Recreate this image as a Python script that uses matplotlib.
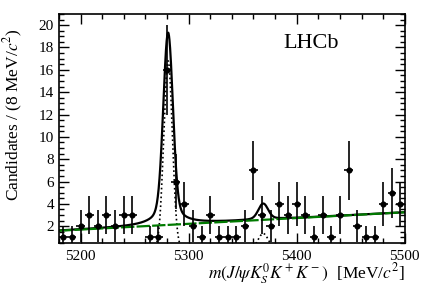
import matplotlib
matplotlib.use("Agg")
import matplotlib.pyplot as plt
import numpy as np
from matplotlib.ticker import MultipleLocator

plt.rcParams['font.family'] = ['Liberation Serif', 'DejaVu Serif']
plt.rcParams['mathtext.fontset'] = 'stix'

# binned data: 8 MeV bins from 5180 to 5500 (bin centres)
bin_centres = [5184, 5192, 5200, 5208, 5216, 5224, 5232, 5240, 5248, 5256,
               5264, 5272, 5280, 5288, 5296, 5304, 5312, 5320, 5328, 5336,
               5344, 5352, 5360, 5368, 5376, 5384, 5392, 5400, 5408, 5416,
               5424, 5432, 5440, 5448, 5456, 5464, 5472, 5480, 5488, 5496]
counts = [1, 1, 2, 3, 2, 3, 2, 3, 3, 0,
          1, 1, 16, 6, 4, 2, 1, 3, 1, 1,
          1, 2, 7, 3, 2, 4, 3, 4, 3, 1,
          3, 1, 3, 7, 2, 1, 1, 4, 5, 4]

# fit components
bkg_ends = [1.6, 3.25]          # linear background at 5180 and 5500
b0_mass, b0_peak, b0_sigma = 5281.0, 16.8, 4.0
bs_mass, bs_peak, bs_sigma = 5369.0, 1.35, 4.6
core_amp, core_sigma = 14.7, 4.3
tail_amp, tail_gamma = 2.5, 10.0
bs_scale = 0.083

x = np.linspace(5180, 5500, 1600)
bkg = bkg_ends[0] + (bkg_ends[1] - bkg_ends[0]) * (x - 5180) / 320.0


def shape(dm):
    return core_amp * np.exp(-dm**2 / (2 * core_sigma**2)) + tail_amp / (1 + (dm / tail_gamma)**2)


total = bkg + shape(x - b0_mass) + bs_scale * shape(x - bs_mass)
b0_comp = b0_peak * np.exp(-(x - b0_mass)**2 / (2 * b0_sigma**2))
bs_comp = bs_peak * np.exp(-(x - bs_mass)**2 / (2 * bs_sigma**2))

fig = plt.figure(figsize=(4.27, 2.90), dpi=100)
ax = fig.add_axes([0.138, 0.162, 0.81, 0.79])

ax.plot(x, b0_comp, color='black', linestyle=':', lw=1.2)
ax.plot(x, bs_comp, color='black', linestyle=':', lw=1.2)
ax.plot(x, total, color='black', lw=1.6)
ax.plot(x, bkg, color='#007a00', lw=1.6, linestyle=(0, (6, 1)))

bc = np.array(bin_centres, dtype=float)
n = np.array(counts, dtype=float)
keep = n > 0
ax.errorbar(bc[keep], n[keep], yerr=np.sqrt(n[keep]), xerr=4,
            fmt='o', color='black', ms=3.4, elinewidth=1.2, capsize=0)

ax.set_xlim(5180, 5500)
ax.set_ylim(0.5, 21)
ax.xaxis.set_major_locator(MultipleLocator(100))
ax.xaxis.set_minor_locator(MultipleLocator(20))
ax.yaxis.set_major_locator(MultipleLocator(2))
ax.yaxis.set_minor_locator(MultipleLocator(0.5))
ax.tick_params(which='both', direction='in', top=True, right=True, labelsize=11)
ax.tick_params(which='major', length=7, width=1)
ax.tick_params(which='minor', length=3.5, width=1)
ax.tick_params(axis='x', which='major', pad=5)
for s in ax.spines.values():
    s.set_linewidth(1.2)

ax.set_ylabel(r'Candidates / (8 MeV/$c^2$)', fontsize=12.5)
ax.yaxis.set_label_coords(-0.097, 0.56)
ax.set_xlabel(r'$m(J/\psi K^0_S K^+K^-)$  [MeV/$c^2$]', fontsize=12.5,
              loc='right', labelpad=-1)
ax.text(0.648, 0.87, 'LHCb', transform=ax.transAxes, fontsize=16,
        ha='left', va='center')

fig.savefig('out.png', dpi=100)
